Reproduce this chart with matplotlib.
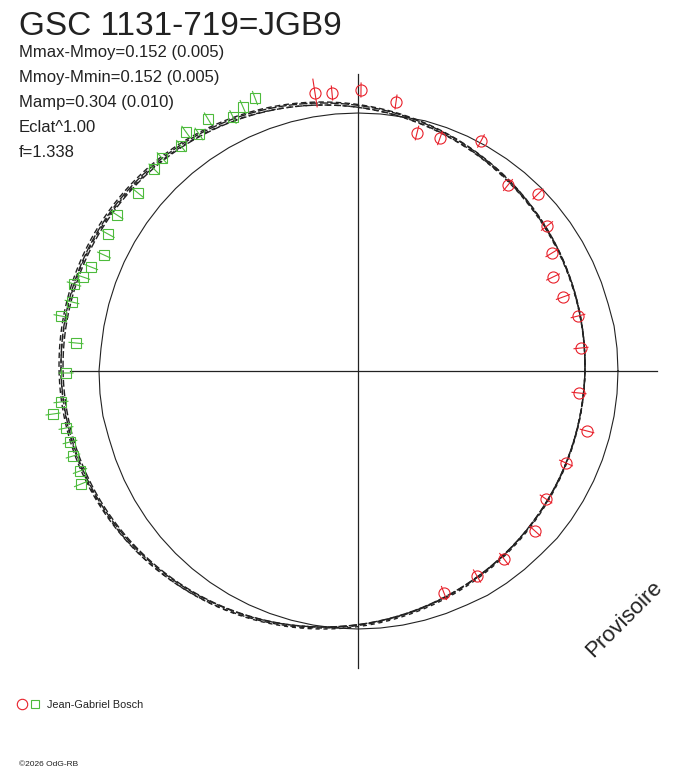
import numpy as np
import matplotlib.pyplot as plt

plt.rcParams['font.family'] = ['Liberation Sans', 'DejaVu Sans']

W, H = 688, 768
CX, CY = 358, 371  # pixel position of the diagram centre

# observations (diagram units, origin at the centre)
red_x = [-43, -26, 3, 38, 59, 82, 123, 150, 180, 189, 194, 195, 205, 220,
         223, 221, 229, 208, 188, 177, 146, 119, 86]
red_y = [278, 278, 281, 269, 238, 233, 230, 186, 177, 145, 118, 94, 74, 55,
         23, -22, -60, -92, -128, -160, -188, -205, -222]
red_err = [14, 7, 7, 7, 7, 7, 7, 7, 7, 7, 7, 7, 7, 7,
           7, 7, 7, 7, 7, 7, 7, 7, 7]

green_x = [-103, -115, -125, -150, -172, -159, -177, -196, -204, -220, -241,
           -250, -254, -267, -275, -284, -286, -297, -282, -292, -297, -305,
           -292, -288, -285, -278, -277]
green_y = [273, 264, 254, 252, 239, 237, 225, 213, 202, 178, 156, 137, 116,
           104, 94, 87, 69, 55, 28, -2, -31, -43, -57, -71, -85, -100, -113]
green_err = [7] * 27

# fitted curves (centre offset and radius of each solution)
fit_cx = [-35, -34, -36, -35]
fit_cy = [6, 5, 6, 4]
fit_r = [262, 261, 263, 262]

# reference curve radius, read every 5 degrees from 0 (counter-clockwise)
ref_ang = np.arange(0, 360, 5)
ref_r = [260, 260, 260, 259, 259, 259, 259, 259, 259, 259, 259, 259,
         259, 259, 259, 259, 258, 258, 258, 258, 258, 258, 258, 258,
         258, 258, 258, 258, 258, 258, 258, 258, 258, 258, 258, 258,
         259, 259, 259, 258, 258, 258, 258, 258, 258, 258, 258, 258,
         258, 258, 258, 258, 258, 258, 258, 258, 258, 258, 258, 258,
         259, 259, 259, 259, 260, 260, 260, 260, 260, 260, 260, 260]

stats = ['Mmax-Mmoy=0.152 (0.005)', 'Mmoy-Mmin=0.152 (0.005)',
         'Mamp=0.304 (0.010)', 'Eclat^1.00', 'f=1.338']

fig = plt.figure(figsize=(W / 100, H / 100), dpi=100)
ax = fig.add_axes([0, 0, 1, 1])
ax.set_xlim(-CX, W - CX)
ax.set_ylim(CY - H, CY)
ax.axis('off')

ink = '#222222'
red = '#e8202a'
green = '#4dbb3c'

# axes cross
ax.plot([-288, 299], [0, 0], c=ink, lw=0.9)
ax.plot([0, 0], [-297, 297], c=ink, lw=0.9)

# reference curve
a = np.radians(np.append(ref_ang, 360))
rr = np.append(ref_r, ref_r[0])
ax.plot(rr * np.cos(a), rr * np.sin(a), c=ink, lw=0.8)

# fits, dashed
t = np.linspace(0, 2 * np.pi, 400)
for i in range(len(fit_r)):
    ax.plot(fit_cx[i] + fit_r[i] * np.cos(t), fit_cy[i] + fit_r[i] * np.sin(t),
            c=ink, lw=1.0, dashes=(6 - i, 1.5 + 0.4 * i), dash_capstyle='butt')


def radial_bars(xs, ys, es, col):
    for x, y, e in zip(xs, ys, es):
        r = np.hypot(x, y)
        ux, uy = x / r, y / r
        ax.plot([x - e * ux, x + e * ux], [y - e * uy, y + e * uy], c=col, lw=0.8)


radial_bars(red_x, red_y, red_err, red)
radial_bars(green_x, green_y, green_err, green)
ax.plot(red_x, red_y, 'o', ms=8, mfc='none', mec=red, mew=0.8)
ax.plot(green_x, green_y, 's', ms=6.5, mfc='none', mec=green, mew=0.8)


def ftext(x, y, s, **kw):
    fig.text(x / W, 1 - y / H, s, **kw)


ftext(19, 35, 'GSC 1131-719=JGB9', fontsize=24, color=ink, va='baseline')
for k, s in enumerate(stats):
    ftext(19, 57 + 25 * k, s, fontsize=12, color=ink, va='baseline')

ftext(624, 619, 'Provisoire', fontsize=16, color=ink, rotation=45,
      ha='center', va='center', rotation_mode='anchor')

# legend
ax.plot([22 - CX], [CY - 704], 'o', ms=7.5, mfc='none', mec=red, mew=0.8)
ax.plot([35 - CX], [CY - 704], 's', ms=5.5, mfc='none', mec=green, mew=0.8)
ftext(47, 708, 'Jean-Gabriel Bosch', fontsize=7.8, color=ink, va='baseline')
ftext(19, 766, '©2026 OdG-RB', fontsize=6, color=ink, va='baseline')

fig.savefig('out.png', dpi=100)
